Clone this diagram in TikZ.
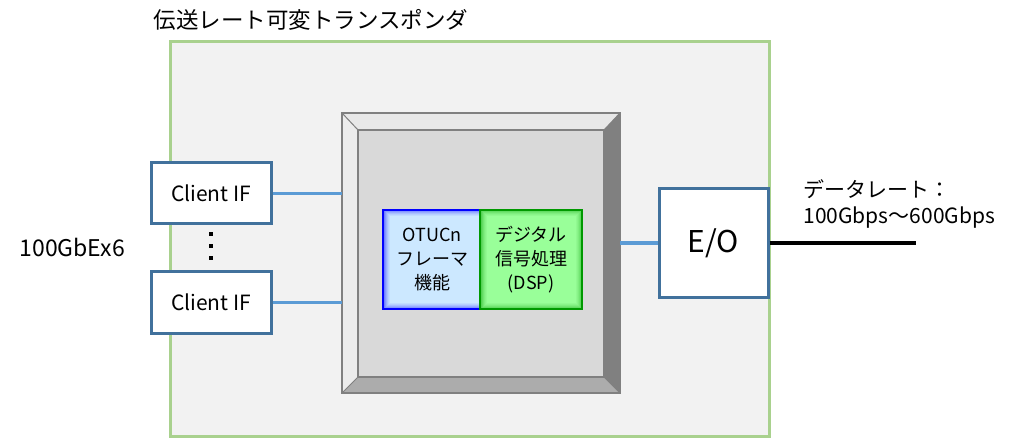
\documentclass[tikz,border=0pt]{standalone}
\usepackage{fontspec}
\setmainfont{Noto Sans CJK JP}
\usepackage{xcolor}
\definecolor{panelgray}{HTML}{F2F2F2}
\definecolor{panelgreen}{HTML}{A9D18E}
\definecolor{ifblue}{HTML}{41719C}
\definecolor{linkblue}{HTML}{5B9BD5}
\definecolor{facegray}{HTML}{D9D9D9}
\definecolor{edgegray}{HTML}{808080}
\definecolor{otufill}{HTML}{CCE8FF}
\definecolor{dspfill}{HTML}{99FF99}
\definecolor{dspedge}{HTML}{009900}

\begin{document}
\begin{tikzpicture}[x=1pt,y=-1pt,
  txt/.style={font=\fontsize{21pt}{26pt}\selectfont},
  clientbox/.style={draw=ifblue, line width=3pt, fill=white, minimum width=120pt, minimum height=61pt, inner sep=0pt, font=\fontsize{21pt}{26pt}\selectfont},
  link/.style={draw=linkblue, line width=3.5pt},
  dotmark/.style={fill=black, minimum size=4pt, inner sep=0pt},
  funcbox/.style={line width=2pt, minimum width=102pt, minimum height=99pt, inner sep=0pt, align=center, font=\fontsize{18pt}{24pt}\selectfont}]
\useasboundingbox (0,0) rectangle (1014,438);

\node[anchor=west, font=\fontsize{22.5pt}{26pt}\selectfont] (title) at (150,20) {伝送レート可変トランスポンダ};
\node[draw=panelgreen, line width=3pt, fill=panelgray, minimum width=599pt, minimum height=394pt] (xpdr) at (469.5,239) {};

% bevelled core
\node[minimum width=278pt, minimum height=280pt, inner sep=0pt] (core) at (481,253) {};
\fill[facegray] (358,130) rectangle (604,377);
\fill[gray!18] (342,113) -- (620,113) -- (604,130) -- (358,130) -- cycle;
\fill[gray!15] (342,113) -- (358,130) -- (358,377) -- (342,393) -- cycle;
\fill[edgegray] (620,113) -- (620,393) -- (604,377) -- (604,130) -- cycle;
\fill[gray!65] (342,393) -- (620,393) -- (604,377) -- (358,377) -- cycle;
\draw[edgegray, line width=1pt] (342,113) -- (358,130) (620,113) -- (604,130) (342,393) -- (358,377) (620,393) -- (604,377);
\draw[edgegray, line width=1.5pt] (358,130) rectangle (604,377);
\draw[edgegray, line width=2.5pt] (core.north west) rectangle (core.south east);

\node[funcbox, draw=blue, fill=otufill, path picture={
    \foreach \i/\o in {1/0.45,2/0.35,3/0.25,4/0.17,5/0.1,6/0.05}
      \draw[blue, draw opacity=\o, line width=1pt] ([shift={(\i pt,\i pt)}]path picture bounding box.south west) rectangle ([shift={(-\i pt,-\i pt)}]path picture bounding box.north east);
  }] (otu) at (434,259.5) {};
\node[funcbox, draw=dspedge, line width=2.5pt, fill=dspfill, path picture={
    \foreach \i/\o in {1/0.45,2/0.35,3/0.25,4/0.17,5/0.1,6/0.05}
      \draw[dspedge, draw opacity=\o, line width=1pt] ([shift={(\i pt,\i pt)}]path picture bounding box.south west) rectangle ([shift={(-\i pt,-\i pt)}]path picture bounding box.north east);
  }] (dsp) at (531,259.5) {デジタル\\信号処理\\(DSP)};
\node[align=center, font=\fontsize{18pt}{24pt}\selectfont] (otutext) at (432,259.5) {OTUCn\\フレーマ\\機能};

% client side
\node[clientbox] (cl1) at (211,193.5) {Client IF};
\node[clientbox] (cl2) at (211,302.5) {Client IF};
\node[dotmark] (d1) at (211,234) {};
\node[dotmark] (d2) at (211,246) {};
\node[dotmark] (d3) at (211,258) {};
\node[anchor=west, font=\fontsize{23pt}{26pt}\selectfont] (gbe) at (16,247) {100GbEx6};
\draw[link] (cl1.east) -- (cl1.east -| core.west);
\draw[link] (cl2.east) -- (cl2.east -| core.west);

% line side
\node[draw=ifblue, line width=3pt, fill=white, minimum width=109pt, minimum height=108pt, inner sep=0pt, font=\fontsize{30pt}{34pt}\selectfont] (eo) at (713.5,243) {E/O};
\draw[link] (core.east |- eo.west) -- (eo.west);
\coordinate (fibre) at (916,243);
\draw[line width=3.5pt] (eo.east) -- (fibre);
\node[anchor=west, align=left, txt] (rate) at (800,204) {データレート：\\100Gbps～600Gbps};
\end{tikzpicture}
\end{document}
